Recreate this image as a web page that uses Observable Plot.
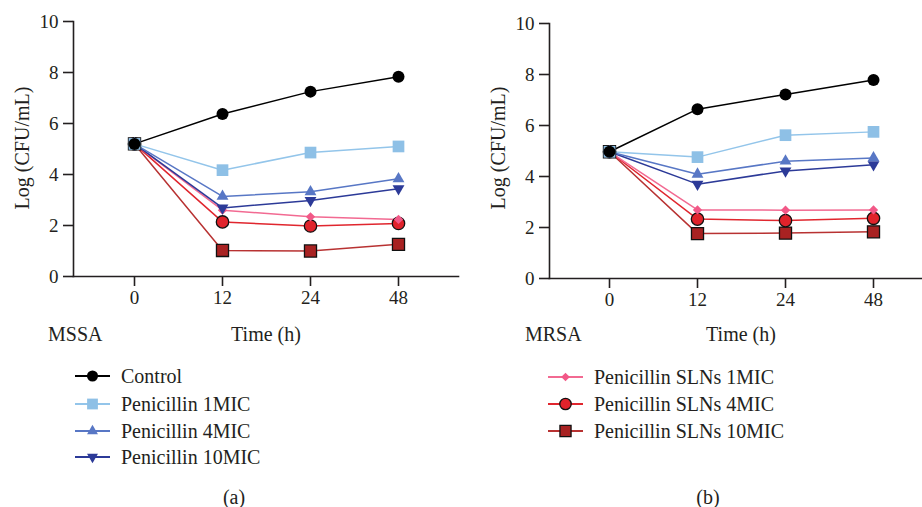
<!DOCTYPE html>
<html><head><meta charset="utf-8">
<script src="https://cdn.jsdelivr.net/npm/d3@7"></script>
<script src="https://cdn.jsdelivr.net/npm/@observablehq/plot@0.6"></script>
<style>
body{margin:0;background:#fff;}
#root{position:relative;width:922px;height:507px;font-family:'Liberation Serif',serif;color:#231f20;overflow:hidden;background:#fff}
.abs{position:absolute;white-space:nowrap;line-height:20px;font-size:20px}
.panel{position:absolute;top:0}
.panel svg, .panel svg text{font-family:'Liberation Serif',serif !important}
</style></head><body><div id="root"></div>
<script>
// ---------- data ----------
const times = ["0", "12", "24", "48"];
const seriesNames = ["Control", "Penicillin 1MIC", "Penicillin 4MIC", "Penicillin 10MIC",
  "Penicillin SLNs 1MIC", "Penicillin SLNs 4MIC", "Penicillin SLNs 10MIC"];

// MSSA (a)
const mssaControl = [5.2, 6.37, 7.25, 7.83];
const mssaPen1 = [5.2, 4.17, 4.86, 5.1];
const mssaPen4 = [5.2, 3.14, 3.32, 3.83];
const mssaPen10 = [5.2, 2.69, 2.98, 3.44];
const mssaSln1 = [5.2, 2.6, 2.34, 2.24];
const mssaSln4 = [5.2, 2.14, 1.98, 2.08];
const mssaSln10 = [5.2, 1.02, 1.0, 1.26];

// MRSA (b)
const mrsaControl = [4.97, 6.64, 7.22, 7.78];
const mrsaPen1 = [4.97, 4.76, 5.62, 5.75];
const mrsaPen4 = [4.97, 4.09, 4.6, 4.73];
const mrsaPen10 = [4.97, 3.7, 4.22, 4.46];
const mrsaSln1 = [4.97, 2.69, 2.68, 2.69];
const mrsaSln4 = [4.97, 2.33, 2.27, 2.36];
const mrsaSln10 = [4.97, 1.76, 1.78, 1.83];

const yTicks = [0, 2, 4, 6, 8, 10];
const strainLabels = ["MSSA", "MRSA"];
const panelTags = ["(a)", "(b)"];
const xTitle = "Time (h)";
const yTitle = "Log (CFU/mL)";

// ---------- styles ----------
const styles = {
  "Control": {line: "#000000", fill: "#000000", stroke: "none", symbol: "circle", r: 6},
  "Penicillin 1MIC": {line: "#93c5ea", fill: "#8ec0e6", stroke: "none", symbol: "square", r: 6.6},
  "Penicillin 4MIC": {line: "#5877c5", fill: "#5877c5", stroke: "none", symbol: "triangle", r: 4.4},
  "Penicillin 10MIC": {line: "#2c3a98", fill: "#2c3a98", stroke: "none", symbol: "triangle", r: 4.4, rotate: 180},
  "Penicillin SLNs 1MIC": {line: "#f26a92", fill: "#f25887", stroke: "none", symbol: "diamond2", r: 4.2},
  "Penicillin SLNs 4MIC": {line: "#e0262e", fill: "#e0232b", stroke: "#111", symbol: "circle", r: 6.2},
  "Penicillin SLNs 10MIC": {line: "#b83232", fill: "#a82222", stroke: "#111", symbol: "square", r: 6.8}
};
const drawOrder = [6, 5, 4, 3, 2, 1, 0];

const panels = [
  {values: [mssaControl, mssaPen1, mssaPen4, mssaPen10, mssaSln1, mssaSln4, mssaSln10],
   left: 0, width: 461, height: 312, mt: 21, mb: 36, ml: 73, mr: 3, xr: [133, 398]},
  {values: [mrsaControl, mrsaPen1, mrsaPen4, mrsaPen10, mrsaSln1, mrsaSln4, mrsaSln10],
   left: 461, width: 461, height: 314, mt: 23, mb: 36, ml: 88, mr: 0, xr: [147.7, 412.7]}
];

const root = document.getElementById("root");
const axisColor = "#231f20";
const serif = "'Liberation Serif', serif";

panels.forEach((p, pi) => {
  const rows = seriesNames.flatMap((name, si) =>
    times.map((t, ti) => ({series: name, time: t, value: p.values[si][ti]})));
  const marks = [];
  for (const si of drawOrder) {
    const name = seriesNames[si];
    const st = styles[name];
    marks.push(Plot.line(rows.filter(d => d.series === name),
      {x: "time", y: "value", stroke: st.line, strokeWidth: 1.5}));
  }
  for (const si of drawOrder) {
    const name = seriesNames[si];
    const st = styles[name];
    marks.push(Plot.dot(rows.filter(d => d.series === name),
      {x: "time", y: "value", symbol: () => st.symbol, r: st.r, fill: st.fill,
       stroke: st.stroke, strokeWidth: 1.3, rotate: st.rotate || 0}));
  }
  const chart = Plot.plot({
    width: p.width, height: p.height,
    marginTop: p.mt, marginBottom: p.mb, marginLeft: p.ml, marginRight: p.mr,
    style: `font-family: ${serif}; font-size: 19px; color: ${axisColor}; background: transparent;`,
    x: {type: "point", domain: times, range: p.xr, padding: 0, axis: null},
    y: {domain: [0, 10], axis: null},
    symbol: {type: "identity"},
    marks: [
      Plot.frame({anchor: "left", stroke: axisColor, strokeWidth: 1.6}),
      Plot.frame({anchor: "bottom", stroke: axisColor, strokeWidth: 1.6}),
      Plot.axisY(yTicks, {tickSize: 10, tickPadding: 5, fontSize: 19, fontFamily: serif, label: null, stroke: axisColor, strokeWidth: 1.6, fill: axisColor}),
      Plot.axisX(times, {tickSize: 10, tickPadding: 4, fontSize: 19, fontFamily: serif, label: null, stroke: axisColor, strokeWidth: 1.6, fill: axisColor}),
      ...marks
    ]
  });
  const wrap = document.createElement("div");
  wrap.className = "panel";
  wrap.style.left = p.left + "px";
  wrap.appendChild(chart);
  root.appendChild(wrap);
});

function addText(txt, x, y, anchor, rotate) {
  const d = document.createElement("div");
  d.className = "abs";
  d.textContent = txt;
  d.style.left = x + "px";
  d.style.top = y + "px";
  let tf = "translateY(-50%)";
  if (anchor === "middle") tf = "translate(-50%,-50%)";
  if (rotate) tf += " rotate(-90deg)";
  d.style.transform = tf;
  root.appendChild(d);
  return d;
}

// axis titles and labels
addText(yTitle, 22, 148, "middle", true);
addText(yTitle, 498, 148, "middle", true);
addText(strainLabels[0], 48, 334);
addText(xTitle, 266, 334, "middle");
addText(strainLabels[1], 525, 334);
addText(xTitle, 741, 334, "middle");
addText(panelTags[0], 234, 497, "middle");
addText(panelTags[1], 708, 497, "middle");

// legend
const legendRows = [
  {si: 0, x: 75, y: 376}, {si: 1, x: 75, y: 403.5}, {si: 2, x: 75, y: 431}, {si: 3, x: 75, y: 457},
  {si: 4, x: 548, y: 377}, {si: 5, x: 548, y: 404}, {si: 6, x: 548, y: 431}
];
const symMap = {circle: d3.symbolCircle, square: d3.symbolSquare, triangle: d3.symbolTriangle, diamond2: d3.symbolDiamond2};
legendRows.forEach(row => {
  const name = seriesNames[row.si];
  const st = styles[name];
  const svg = d3.create("svg").attr("width", 36).attr("height", 20)
    .style("position", "absolute").style("left", row.x + "px").style("top", (row.y - 10) + "px");
  svg.append("line").attr("x1", 0).attr("x2", 35).attr("y1", 10).attr("y2", 10)
    .attr("stroke", st.line).attr("stroke-width", 2);
  svg.append("path")
    .attr("d", d3.symbol(symMap[st.symbol], Math.PI * st.r * st.r * 0.85)())
    .attr("transform", `translate(17.5,10) rotate(${st.rotate || 0})`)
    .attr("fill", st.fill).attr("stroke", st.stroke).attr("stroke-width", 1.3);
  root.appendChild(svg.node());
  addText(name, row.x + 46, row.y);
});
</script></body></html>
